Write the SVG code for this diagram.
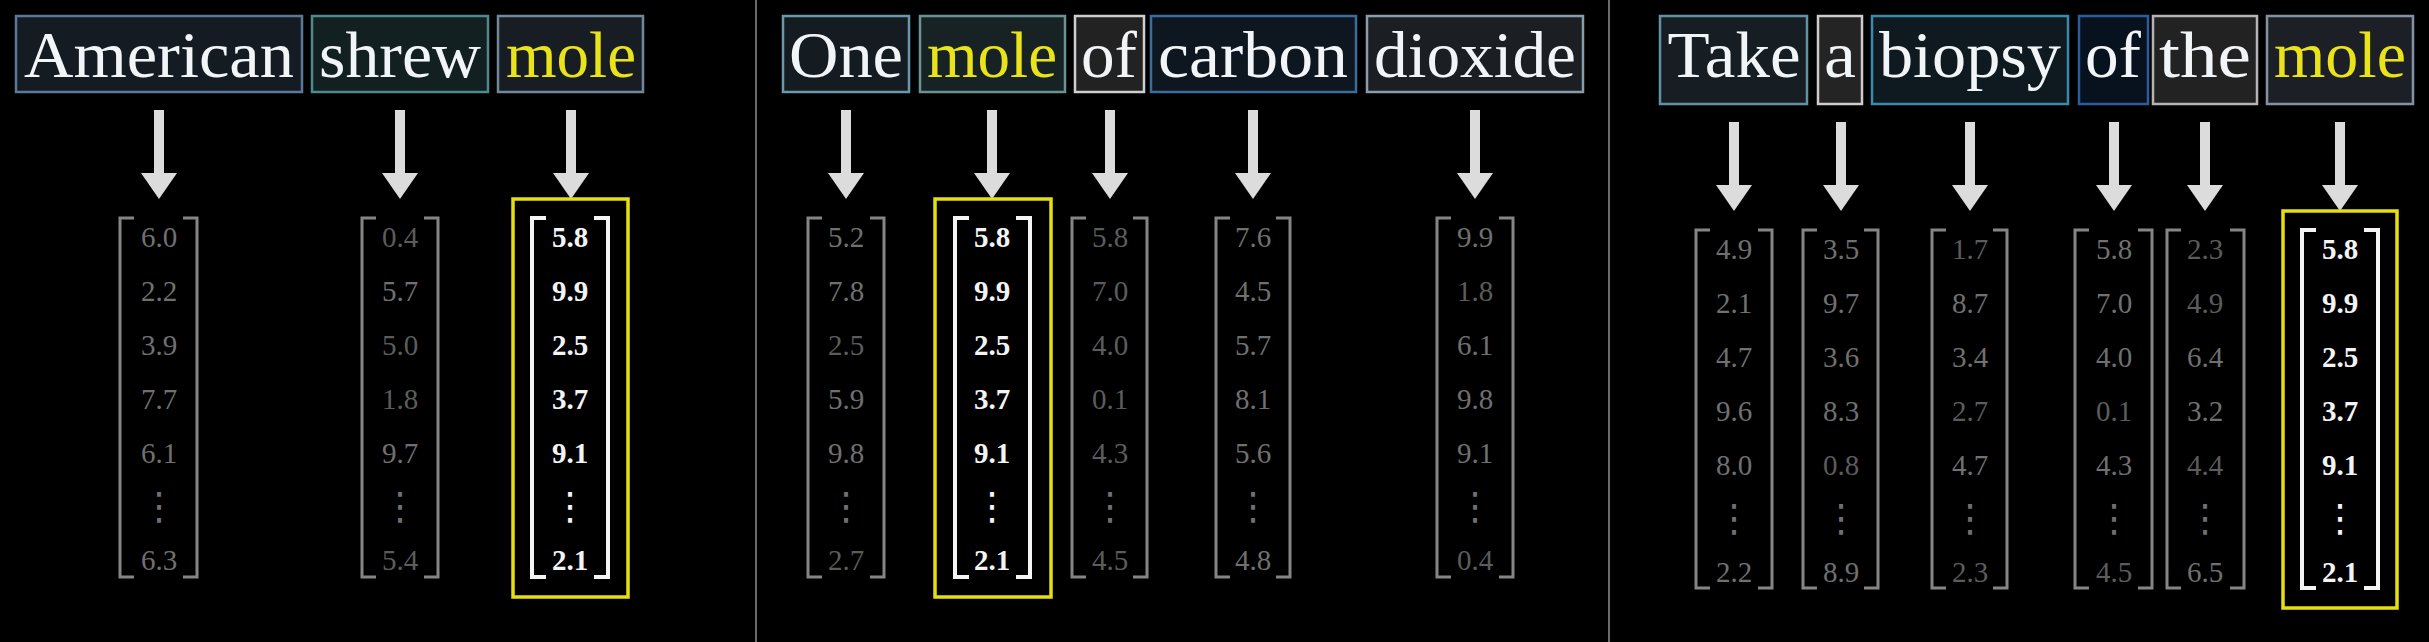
<svg xmlns="http://www.w3.org/2000/svg" width="2429" height="642" viewBox="0 0 2429 642">
<defs>
<style>
.word{font-family:"Liberation Serif","DejaVu Serif",serif;font-size:66px;fill:#f2f5f8;text-anchor:middle}
.yel{fill:#e9e31c}
.wb{stroke-width:2.5}
.num{font-family:"Liberation Serif","DejaVu Serif",serif;font-size:29px;text-anchor:middle;fill:#707070}
.d1{fill:#5c5c5c}
.hi{fill:#f4f4f4;font-weight:bold}
.dots{font-family:"DejaVu Sans",sans-serif;font-size:38px;text-anchor:middle;fill:#707070}
.dw{fill:#f4f4f4}
.br{fill:none;stroke:#858585;stroke-width:3}
.brw{fill:none;stroke:#f4f4f4;stroke-width:4}
.sel{fill:none;stroke:#e6df10;stroke-width:3.5}
.arr{stroke:#dcdcdc;stroke-width:10;marker-end:url(#ah)}
.sep{stroke:#6a6a6a;stroke-width:2}
</style>
<marker id="ah" viewBox="0 0 26 36" refX="0" refY="18" markerWidth="26" markerHeight="36" markerUnits="userSpaceOnUse" orient="auto">
<path d="M0,0 L26,18 L0,36 z" fill="#dcdcdc"/>
</marker>
</defs>
<rect x="0" y="0" width="2429" height="642" fill="#000"/>
<line class="sep" x1="756" y1="0" x2="756" y2="642"/>
<line class="sep" x1="1609" y1="0" x2="1609" y2="642"/>

<!-- Panel 1 words -->
<g id="w-american"><rect class="wb" x="16" y="16" width="286" height="76" fill="#151b22" stroke="#5b7898"/><text class="word" x="159" y="77" textLength="270" lengthAdjust="spacingAndGlyphs">American</text></g>
<g id="w-shrew"><rect class="wb" x="312" y="16" width="176" height="76" fill="#132022" stroke="#4e8a8c"/><text class="word" x="400" y="77" textLength="162" lengthAdjust="spacingAndGlyphs">shrew</text></g>
<g id="w-mole1"><rect class="wb" x="498" y="16" width="145" height="76" fill="#181d24" stroke="#71889a"/><text class="word yel" x="571" y="77" textLength="130" lengthAdjust="spacingAndGlyphs">mole</text></g>

<!-- Panel 2 words -->
<g id="w-one"><rect class="wb" x="783" y="16" width="126" height="76" fill="#141c22" stroke="#6a98aa"/><text class="word" x="846" y="77" textLength="114" lengthAdjust="spacingAndGlyphs">One</text></g>
<g id="w-mole2"><rect class="wb" x="920" y="16" width="145" height="76" fill="#172224" stroke="#6a9292"/><text class="word yel" x="992" y="77" textLength="130" lengthAdjust="spacingAndGlyphs">mole</text></g>
<g id="w-of2"><rect class="wb" x="1075" y="16" width="69" height="76" fill="#222222" stroke="#cfcfcf"/><text class="word" x="1109" y="77" textLength="56" lengthAdjust="spacingAndGlyphs">of</text></g>
<g id="w-carbon"><rect class="wb" x="1151" y="16" width="205" height="76" fill="#0e1620" stroke="#3c6c9c"/><text class="word" x="1253" y="77" textLength="190" lengthAdjust="spacingAndGlyphs">carbon</text></g>
<g id="w-dioxide"><rect class="wb" x="1367" y="16" width="216" height="76" fill="#1b1f24" stroke="#8a9caa"/><text class="word" x="1475" y="77" textLength="202" lengthAdjust="spacingAndGlyphs">dioxide</text></g>

<!-- Panel 3 words -->
<g id="w-take"><rect class="wb" x="1660" y="16" width="147" height="88" fill="#161e24" stroke="#6092a2"/><text class="word" x="1734" y="77" textLength="133" lengthAdjust="spacingAndGlyphs">Take</text></g>
<g id="w-a"><rect class="wb" x="1818" y="16" width="44" height="88" fill="#242424" stroke="#cccccc"/><text class="word" x="1840" y="77" textLength="32" lengthAdjust="spacingAndGlyphs">a</text></g>
<g id="w-biopsy"><rect class="wb" x="1872" y="16" width="196" height="88" fill="#0e1a20" stroke="#3a8aaa"/><text class="word" x="1970" y="77" textLength="182" lengthAdjust="spacingAndGlyphs">biopsy</text></g>
<g id="w-of3"><rect class="wb" x="2079" y="16" width="69" height="88" fill="#08121e" stroke="#2c5c9c"/><text class="word" x="2113" y="77" textLength="56" lengthAdjust="spacingAndGlyphs">of</text></g>
<g id="w-the"><rect class="wb" x="2153" y="16" width="104" height="88" fill="#222222" stroke="#b4b4b4"/><text class="word" x="2205" y="77" textLength="92" lengthAdjust="spacingAndGlyphs">the</text></g>
<g id="w-mole3"><rect class="wb" x="2267" y="16" width="146" height="88" fill="#1c2026" stroke="#8292a2"/><text class="word yel" x="2340" y="77" textLength="132" lengthAdjust="spacingAndGlyphs">mole</text></g>

<!-- Connectors -->
<g id="connectors">
<line class="arr" x1="159" y1="110" x2="159" y2="173"/>
<line class="arr" x1="400" y1="110" x2="400" y2="173"/>
<line class="arr" x1="571" y1="110" x2="571" y2="173"/>
<line class="arr" x1="846" y1="110" x2="846" y2="173"/>
<line class="arr" x1="992" y1="110" x2="992" y2="173"/>
<line class="arr" x1="1110" y1="110" x2="1110" y2="173"/>
<line class="arr" x1="1253" y1="110" x2="1253" y2="173"/>
<line class="arr" x1="1475" y1="110" x2="1475" y2="173"/>
<line class="arr" x1="1734" y1="122" x2="1734" y2="185"/>
<line class="arr" x1="1841" y1="122" x2="1841" y2="185"/>
<line class="arr" x1="1970" y1="122" x2="1970" y2="185"/>
<line class="arr" x1="2114" y1="122" x2="2114" y2="185"/>
<line class="arr" x1="2205" y1="122" x2="2205" y2="185"/>
<line class="arr" x1="2340" y1="122" x2="2340" y2="185"/>
</g>

<!-- Panel 1 vectors -->
<g id="v-american">
<path class="br" d="M134,218 H120 V577 H134 M183,218 H197 V577 H183"/>
<text class="num" x="159" y="247">6.0</text><text class="num" x="159" y="301">2.2</text><text class="num" x="159" y="355">3.9</text><text class="num" x="159" y="409">7.7</text><text class="num" x="159" y="463">6.1</text><text class="dots" x="159" y="519">⋮</text><text class="num" x="159" y="570">6.3</text>
</g>
<g id="v-shrew">
<path class="br" d="M376,218 H362 V577 H376 M424,218 H438 V577 H424"/>
<text class="num d1" x="400" y="247">0.4</text><text class="num" x="400" y="301">5.7</text><text class="num d1" x="400" y="355">5.0</text><text class="num d1" x="400" y="409">1.8</text><text class="num" x="400" y="463">9.7</text><text class="dots" x="400" y="519">⋮</text><text class="num d1" x="400" y="570">5.4</text>
</g>
<g id="v-mole1">
<rect class="sel" x="513" y="199" width="115" height="398"/>
<path class="brw" d="M546,218 H532 V577 H546 M594,218 H608 V577 H594"/>
<text class="num hi" x="570" y="247">5.8</text><text class="num hi" x="570" y="301">9.9</text><text class="num hi" x="570" y="355">2.5</text><text class="num hi" x="570" y="409">3.7</text><text class="num hi" x="570" y="463">9.1</text><text class="dots dw" x="570" y="519">⋮</text><text class="num hi" x="570" y="570">2.1</text>
</g>

<!-- Panel 2 vectors -->
<g id="v-one">
<path class="br" d="M822,218 H808 V577 H822 M870,218 H884 V577 H870"/>
<text class="num" x="846" y="247">5.2</text><text class="num" x="846" y="301">7.8</text><text class="num d1" x="846" y="355">2.5</text><text class="num" x="846" y="409">5.9</text><text class="num" x="846" y="463">9.8</text><text class="dots" x="846" y="519">⋮</text><text class="num d1" x="846" y="570">2.7</text>
</g>
<g id="v-mole2">
<rect class="sel" x="935" y="199" width="116" height="398"/>
<path class="brw" d="M969,218 H955 V577 H969 M1016,218 H1030 V577 H1016"/>
<text class="num hi" x="992" y="247">5.8</text><text class="num hi" x="992" y="301">9.9</text><text class="num hi" x="992" y="355">2.5</text><text class="num hi" x="992" y="409">3.7</text><text class="num hi" x="992" y="463">9.1</text><text class="dots dw" x="992" y="519">⋮</text><text class="num hi" x="992" y="570">2.1</text>
</g>
<g id="v-of2">
<path class="br" d="M1086,218 H1072 V577 H1086 M1133,218 H1147 V577 H1133"/>
<text class="num d1" x="1110" y="247">5.8</text><text class="num d1" x="1110" y="301">7.0</text><text class="num d1" x="1110" y="355">4.0</text><text class="num d1" x="1110" y="409">0.1</text><text class="num d1" x="1110" y="463">4.3</text><text class="dots" x="1110" y="519">⋮</text><text class="num d1" x="1110" y="570">4.5</text>
</g>
<g id="v-carbon">
<path class="br" d="M1230,218 H1216 V577 H1230 M1276,218 H1290 V577 H1276"/>
<text class="num" x="1253" y="247">7.6</text><text class="num" x="1253" y="301">4.5</text><text class="num" x="1253" y="355">5.7</text><text class="num" x="1253" y="409">8.1</text><text class="num" x="1253" y="463">5.6</text><text class="dots" x="1253" y="519">⋮</text><text class="num" x="1253" y="570">4.8</text>
</g>
<g id="v-dioxide">
<path class="br" d="M1451,218 H1437 V577 H1451 M1499,218 H1513 V577 H1499"/>
<text class="num" x="1475" y="247">9.9</text><text class="num d1" x="1475" y="301">1.8</text><text class="num" x="1475" y="355">6.1</text><text class="num" x="1475" y="409">9.8</text><text class="num" x="1475" y="463">9.1</text><text class="dots" x="1475" y="519">⋮</text><text class="num d1" x="1475" y="570">0.4</text>
</g>

<!-- Panel 3 vectors -->
<g id="v-take">
<path class="br" d="M1710,230 H1696 V588 H1710 M1758,230 H1772 V588 H1758"/>
<text class="num" x="1734" y="259">4.9</text><text class="num" x="1734" y="313">2.1</text><text class="num" x="1734" y="367">4.7</text><text class="num" x="1734" y="421">9.6</text><text class="num" x="1734" y="475">8.0</text><text class="dots" x="1734" y="531">⋮</text><text class="num" x="1734" y="582">2.2</text>
</g>
<g id="v-a">
<path class="br" d="M1817,230 H1803 V588 H1817 M1864,230 H1878 V588 H1864"/>
<text class="num" x="1841" y="259">3.5</text><text class="num" x="1841" y="313">9.7</text><text class="num" x="1841" y="367">3.6</text><text class="num" x="1841" y="421">8.3</text><text class="num d1" x="1841" y="475">0.8</text><text class="dots" x="1841" y="531">⋮</text><text class="num" x="1841" y="582">8.9</text>
</g>
<g id="v-biopsy">
<path class="br" d="M1946,230 H1932 V588 H1946 M1993,230 H2007 V588 H1993"/>
<text class="num d1" x="1970" y="259">1.7</text><text class="num" x="1970" y="313">8.7</text><text class="num" x="1970" y="367">3.4</text><text class="num d1" x="1970" y="421">2.7</text><text class="num" x="1970" y="475">4.7</text><text class="dots" x="1970" y="531">⋮</text><text class="num d1" x="1970" y="582">2.3</text>
</g>
<g id="v-of3">
<path class="br" d="M2089,230 H2075 V588 H2089 M2138,230 H2152 V588 H2138"/>
<text class="num" x="2114" y="259">5.8</text><text class="num" x="2114" y="313">7.0</text><text class="num" x="2114" y="367">4.0</text><text class="num d1" x="2114" y="421">0.1</text><text class="num" x="2114" y="475">4.3</text><text class="dots" x="2114" y="531">⋮</text><text class="num d1" x="2114" y="582">4.5</text>
</g>
<g id="v-the">
<path class="br" d="M2181,230 H2167 V588 H2181 M2230,230 H2244 V588 H2230"/>
<text class="num d1" x="2205" y="259">2.3</text><text class="num d1" x="2205" y="313">4.9</text><text class="num" x="2205" y="367">6.4</text><text class="num" x="2205" y="421">3.2</text><text class="num d1" x="2205" y="475">4.4</text><text class="dots" x="2205" y="531">⋮</text><text class="num" x="2205" y="582">6.5</text>
</g>
<g id="v-mole3">
<rect class="sel" x="2283" y="211" width="114" height="397"/>
<path class="brw" d="M2316,230 H2302 V588 H2316 M2364,230 H2378 V588 H2364"/>
<text class="num hi" x="2340" y="259">5.8</text><text class="num hi" x="2340" y="313">9.9</text><text class="num hi" x="2340" y="367">2.5</text><text class="num hi" x="2340" y="421">3.7</text><text class="num hi" x="2340" y="475">9.1</text><text class="dots dw" x="2340" y="531">⋮</text><text class="num hi" x="2340" y="582">2.1</text>
</g>
</svg>
